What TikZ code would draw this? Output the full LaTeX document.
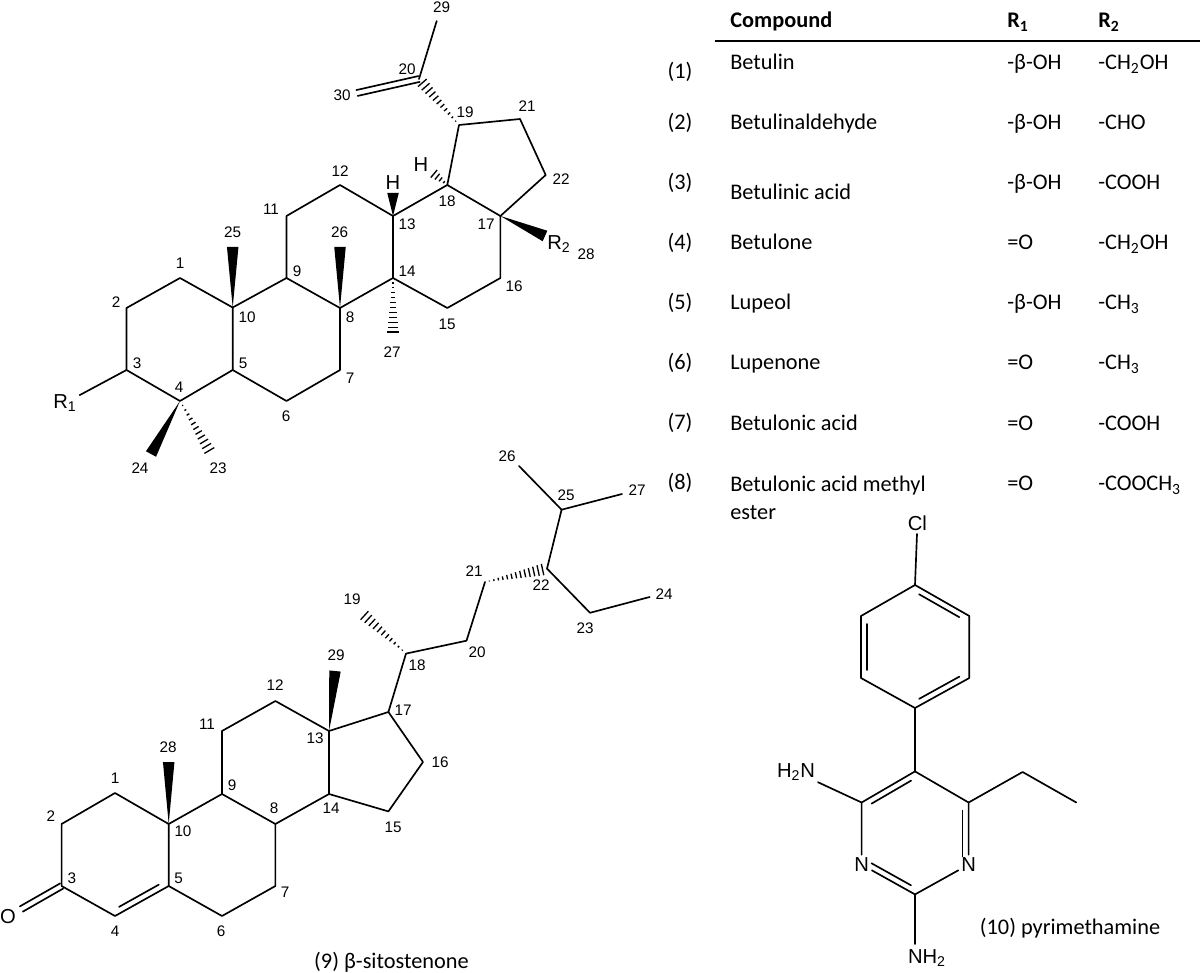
\documentclass[tikz,border=0pt]{standalone}
\usepackage{fontspec}
\setmainfont{Carlito}
\newfontfamily\chemfont{Liberation Sans}
\usetikzlibrary{calc}
\tikzstyle{bond} = [line width=0.95pt, line cap=round, line join=round]
\tikzstyle{num} = [inner sep=0pt, font=\chemfont\fontsize{8.7}{10}\selectfont]
\tikzstyle{atom} = [inner sep=1.5pt, font=\chemfont\fontsize{11.5}{13}\selectfont]
\tikzstyle{tbl} = [inner sep=0pt, anchor=base west, yshift=-1.1pt, font=\fontsize{12.7}{16}\selectfont]
\tikzstyle{tblnum} = [inner sep=0pt, font=\fontsize{12.7}{15}\selectfont]
\tikzstyle{caption} = [inner sep=0pt, font=\fontsize{12.7}{15}\selectfont]
% solid and hashed stereo bonds, double bond, inner line of a ring
\newcommand{\wedgeb}[2]{\fill (#1) -- ($(#2)!0.115cm!90:(#1)$) -- ($(#2)!0.115cm!-90:(#1)$) -- cycle;}
\newcommand{\hashb}[3]{\foreach \k in {1,...,#3} {
    \pgfmathsetmacro{\t}{\k/#3}
    \coordinate (hm) at ($(#1)!\t!(#2)$);
    \draw [line width=0.75pt] ($(hm)!\t*0.125cm!90:(#2)$) -- ($(hm)!\t*0.125cm!-90:(#2)$);
  }}
\newcommand{\dblb}[2]{
  \draw [bond] ($(#1)!0.06cm!90:(#2)$) -- ($(#2)!0.06cm!-90:(#1)$);
  \draw [bond] ($(#1)!0.06cm!-90:(#2)$) -- ($(#2)!0.06cm!90:(#1)$);}
\newcommand{\innerb}[3]{\draw [bond] ($(#1)!0.13!(#2)!#3!90:(#2)$) -- ($(#1)!0.87!(#2)!#3!90:(#2)$);}
\begin{document}
\begin{tikzpicture}[x=0.02cm, y=-0.02cm, node distance=1.2cm]
	\useasboundingbox (0,0) rectangle (1200,973);

	% lupane skeleton
	\coordinate (lupC1) at (180,278);
	\coordinate (lupC2) at (126.5,308);
	\coordinate (lupC3) at (126.5,370);
	\coordinate (lupC4) at (180,401);
	\coordinate (lupC5) at (232.7,370);
	\coordinate (lupC6) at (286.5,401);
	\coordinate (lupC7) at (340,370);
	\coordinate (lupC8) at (340,308);
	\coordinate (lupC9) at (286.5,278);
	\coordinate (lupC10) at (232.7,307.5);
	\coordinate (lupC11) at (286.5,216);
	\coordinate (lupC12) at (340,185);
	\coordinate (lupC13) at (393,216);
	\coordinate (lupC14) at (393,278);
	\coordinate (lupC15) at (447.3,308);
	\coordinate (lupC16) at (500.4,278);
	\coordinate (lupC17) at (500.4,216);
	\coordinate (lupC18) at (447.3,185);
	\coordinate (lupC19) at (459,125);
	\coordinate (lupC20) at (419,79);
	\coordinate (lupC21) at (520,119);
	\coordinate (lupC22) at (545.7,175);
	\coordinate (lupC23) at (212,455);
	\coordinate (lupC24) at (151,454);
	\coordinate (lupC25) at (232.7,247);
	\coordinate (lupC26) at (340,247);
	\coordinate (lupC27) at (393,337);
	\coordinate (lupC28) at (545,236);
	\coordinate (lupC29) at (436.7,21);
	\coordinate (lupC30) at (357,93);
	\coordinate (lupH13) at (393,193);
	\coordinate (lupH18) at (430.6,171);
	\node (lupR1) [atom] at (65,403) {R\textsubscript{1}};
	\node (lupR2) [atom, inner sep=0pt] at (559,244) {R\textsubscript{2}};
	\node (lupH1) [atom, inner sep=0pt] at (393,183) {H};
	\node (lupH2) [atom, inner sep=0pt] at (421,165) {H};

	\draw [bond] (lupC3) -- (lupC2) -- (lupC1) -- (lupC10) -- (lupC5) -- (lupC4) -- (lupC3);
	\draw [bond] (lupC10) -- (lupC9) -- (lupC8) -- (lupC7) -- (lupC6) -- (lupC5);
	\draw [bond] (lupC9) -- (lupC11) -- (lupC12) -- (lupC13) -- (lupC14) -- (lupC8);
	\draw [bond] (lupC13) -- (lupC18) -- (lupC17) -- (lupC16) -- (lupC15) -- (lupC14);
	\draw [bond] (lupC18) -- (lupC19) -- (lupC21) -- (lupC22) -- (lupC17);
	\draw [bond] (lupC20) -- (lupC29);
	\draw [bond] (lupC3) -- (lupR1);
	\dblb{lupC20}{lupC30}
	\wedgeb{lupC10}{lupC25}
	\wedgeb{lupC8}{lupC26}
	\wedgeb{lupC4}{lupC24}
	\wedgeb{lupC17}{lupC28}
	\wedgeb{lupC13}{lupH13}
	\hashb{lupC14}{lupC27}{12}
	\hashb{lupC4}{lupC23}{12}
	\hashb{lupC19}{lupC20}{12}
	\hashb{lupC18}{lupH18}{5}

	\node (lupn1) [num] at (180,263) {1};
	\node (lupn2) [num] at (116,302) {2};
	\node (lupn3) [num] at (137,363) {3};
	\node (lupn4) [num] at (179,387) {4};
	\node (lupn5) [num] at (243,363) {5};
	\node (lupn6) [num] at (286,416) {6};
	\node (lupn7) [num] at (350,378) {7};
	\node (lupn8) [num] at (350,317) {8};
	\node (lupn9) [num] at (297,271) {9};
	\node (lupn10) [num] at (247,317) {10};
	\node (lupn11) [num] at (271,209) {11};
	\node (lupn12) [num] at (340,171) {12};
	\node (lupn13) [num] at (407,224) {13};
	\node (lupn14) [num] at (407,271) {14};
	\node (lupn15) [num] at (447,324) {15};
	\node (lupn16) [num] at (514,286) {16};
	\node (lupn17) [num] at (486,224) {17};
	\node (lupn18) [num] at (447,201) {18};
	\node (lupn19) [num] at (465,112) {19};
	\node (lupn20) [num] at (407,69) {20};
	\node (lupn21) [num] at (527,106) {21};
	\node (lupn22) [num] at (561,179) {22};
	\node (lupn23) [num] at (218,468) {23};
	\node (lupn24) [num] at (140,468) {24};
	\node (lupn25) [num] at (232.7,232) {25};
	\node (lupn26) [num] at (339.6,232) {26};
	\node (lupn27) [num] at (392,352) {27};
	\node (lupn28) [num] at (586,254) {28};
	\node (lupn29) [num] at (441.6,7) {29};
	\node (lupn30) [num] at (342,95) {30};

	% sitostenone
	\coordinate (sitC1) at (115,793);
	\coordinate (sitC2) at (61.6,824);
	\coordinate (sitC3) at (61.6,886);
	\coordinate (sitC4) at (115,916);
	\coordinate (sitC5) at (168.7,886);
	\coordinate (sitC6) at (222,916);
	\coordinate (sitC7) at (275.4,886);
	\coordinate (sitC8) at (275.4,824);
	\coordinate (sitC9) at (222,794);
	\coordinate (sitC10) at (168.7,824);
	\coordinate (sitC11) at (222,731);
	\coordinate (sitC12) at (275.4,701);
	\coordinate (sitC13) at (329,731);
	\coordinate (sitC14) at (329,794);
	\coordinate (sitC15) at (388.4,811.4);
	\coordinate (sitC16) at (423,762);
	\coordinate (sitC17) at (388.4,712);
	\coordinate (sitC18) at (406,653.6);
	\coordinate (sitC19) at (360.7,612);
	\coordinate (sitC20) at (466.5,640.7);
	\coordinate (sitC21) at (485,582);
	\coordinate (sitC22) at (547,568.6);
	\coordinate (sitC23) at (590,612.8);
	\coordinate (sitC24) at (649.6,597);
	\coordinate (sitC25) at (561.6,509.7);
	\coordinate (sitC26) at (519,466);
	\coordinate (sitC27) at (622,494);
	\coordinate (sitC28) at (168.7,762);
	\coordinate (sitC29) at (335,671);
	\coordinate (sitOend) at (21.4,909);
	\node (sitO) [atom, inner sep=0pt] at (8,917) {O};

	\draw [bond] (sitC3) -- (sitC2) -- (sitC1) -- (sitC10) -- (sitC5) -- (sitC4) -- (sitC3);
	\draw [bond] (sitC10) -- (sitC9) -- (sitC8) -- (sitC7) -- (sitC6) -- (sitC5);
	\draw [bond] (sitC9) -- (sitC11) -- (sitC12) -- (sitC13) -- (sitC14) -- (sitC8);
	\draw [bond] (sitC13) -- (sitC17) -- (sitC16) -- (sitC15) -- (sitC14);
	\draw [bond] (sitC17) -- (sitC18) -- (sitC20) -- (sitC21);
	\draw [bond] (sitC22) -- (sitC25) -- (sitC26);
	\draw [bond] (sitC25) -- (sitC27);
	\draw [bond] (sitC22) -- (sitC23) -- (sitC24);
	\dblb{sitC3}{sitOend}
	\innerb{sitC4}{sitC5}{0.12cm}
	\wedgeb{sitC10}{sitC28}
	\wedgeb{sitC13}{sitC29}
	\hashb{sitC18}{sitC19}{12}
	\hashb{sitC21}{sitC22}{14}

	\node (sitn1) [num] at (115,778) {1};
	\node (sitn2) [num] at (51,816.5) {2};
	\node (sitn3) [num] at (72,878) {3};
	\node (sitn4) [num] at (115,931.5) {4};
	\node (sitn5) [num] at (178.6,878) {5};
	\node (sitn6) [num] at (221,931.5) {6};
	\node (sitn7) [num] at (285,892) {7};
	\node (sitn8) [num] at (274,808) {8};
	\node (sitn9) [num] at (232,785) {9};
	\node (sitn10) [num] at (183,831) {10};
	\node (sitn11) [num] at (207,724) {11};
	\node (sitn12) [num] at (275,685.6) {12};
	\node (sitn13) [num] at (315,738.6) {13};
	\node (sitn14) [num] at (331,808) {14};
	\node (sitn15) [num] at (393,827) {15};
	\node (sitn16) [num] at (440,762) {16};
	\node (sitn17) [num] at (403,710) {17};
	\node (sitn18) [num] at (417,665) {18};
	\node (sitn19) [num] at (352,599) {19};
	\node (sitn20) [num] at (477,652.6) {20};
	\node (sitn21) [num] at (474,571.6) {21};
	\node (sitn22) [num] at (541,585) {22};
	\node (sitn23) [num] at (585,628) {23};
	\node (sitn24) [num] at (664,594) {24};
	\node (sitn25) [num] at (566,495.4) {25};
	\node (sitn26) [num] at (507,456) {26};
	\node (sitn27) [num] at (637,490) {27};
	\node (sitn28) [num] at (168,747) {28};
	\node (sitn29) [num] at (336,655) {29};
	\node (sitcap) [caption] at (391.5,962) {(9) β-sitostenone};

	% pyrimethamine
	\coordinate (pyrA) at (915,585);
	\coordinate (pyrB) at (969.3,616);
	\coordinate (pyrC) at (969.3,678);
	\coordinate (pyrD) at (915,708);
	\coordinate (pyrE) at (861,678);
	\coordinate (pyrF) at (861,616);
	\coordinate (pyrC5) at (915,771.4);
	\coordinate (pyrC6) at (968.6,802.5);
	\coordinate (pyrC2) at (915,894.4);
	\coordinate (pyrC4) at (861.6,802.5);
	\coordinate (pyrEt) at (1022.6,772);
	\coordinate (pyrMe) at (1076.3,802.5);
	\coordinate (pyrNbend) at (915,944);
	\node (pyrCl) [atom] at (917.4,523.6) {Cl};
	\node (pyrN1) [atom] at (968.6,864.6) {N};
	\node (pyrN3) [atom] at (861.6,864.6) {N};
	\node (pyrNa) [atom] at (796,772) {H\textsubscript{2}N};
	\node (pyrNb) [atom] at (927,958) {NH\textsubscript{2}};
	\node (pyrcap) [caption] at (1070,928) {(10) pyrimethamine};

	\draw [bond] (pyrA) -- (pyrB) -- (pyrC) -- (pyrD) -- (pyrE) -- (pyrF) -- (pyrA);
	\draw [bond] (pyrCl) -- (pyrA);
	\draw [bond] (pyrD) -- (pyrC5);
	\draw [bond] (pyrC5) -- (pyrC6) -- (pyrN1) -- (pyrC2) -- (pyrN3) -- (pyrC4) -- (pyrC5);
	\draw [bond] (pyrC6) -- (pyrEt) -- (pyrMe);
	\draw [bond] (pyrC4) -- (pyrNa);
	\draw [bond] (pyrC2) -- (pyrNbend);
	\innerb{pyrA}{pyrB}{-0.12cm}
	\innerb{pyrD}{pyrC}{0.12cm}
	\innerb{pyrE}{pyrF}{-0.12cm}
	\innerb{pyrC5}{pyrC4}{0.12cm}
	\innerb{pyrC6}{pyrN1}{-0.12cm}
	\innerb{pyrC2}{pyrN3}{-0.12cm}

	% table
	\node (tblhead) [tbl, font=\fontsize{12.7}{15}\selectfont\bfseries] at (730,26) {Compound};
	\node (tblrone) [tbl, font=\fontsize{12.7}{15}\selectfont\bfseries] at (1007,26) {R\textsubscript{1}};
	\node (tblrtwo) [tbl, font=\fontsize{12.7}{15}\selectfont\bfseries] at (1098,26) {R\textsubscript{2}};
	\coordinate (ruleL) at (715,41);
	\coordinate (ruleR) at (1200,41);
	\draw [line width=1.1pt] (ruleL) -- (ruleR);

	\node (no1) [tblnum] at (680,72) {(1)};
	\node (no2) [tblnum, below of=no1, node distance=1.02cm] {(2)};
	\node (no3) [tblnum, below of=no2] {(3)};
	\node (no4) [tblnum, below of=no3] {(4)};
	\node (no5) [tblnum, below of=no4] {(5)};
	\node (no6) [tblnum, below of=no5] {(6)};
	\node (no7) [tblnum, below of=no6] {(7)};
	\node (no8) [tblnum, below of=no7] {(8)};

	\node (name1) [tbl] at (730,68) {Betulin};
	\node (name2) [tbl] at (730,128) {Betulinaldehyde};
	\node (name3) [tbl] at (730,197.5) {Betulinic acid};
	\node (name4) [tbl] at (730,248) {Betulone};
	\node (name5) [tbl] at (730,308) {Lupeol};
	\node (name6) [tbl] at (730,368) {Lupenone};
	\node (name7) [tbl] at (730,429) {Betulonic acid};
	\node (name8) [tbl, anchor=north west, align=left] at (730,474) {Betulonic acid methyl\\ ester};

	\node (rone1) [tbl] at (1007,68) {-β-OH};
	\node (rone2) [tbl] at (1007,128) {-β-OH};
	\node (rone3) [tbl] at (1007,188) {-β-OH};
	\node (rone4) [tbl] at (1007,248) {=O};
	\node (rone5) [tbl] at (1007,308) {-β-OH};
	\node (rone6) [tbl] at (1007,368) {=O};
	\node (rone7) [tbl] at (1007,429) {=O};
	\node (rone8) [tbl] at (1007,489) {=O};

	\node (rtwo1) [tbl] at (1098,68) {-CH\textsubscript{2}OH};
	\node (rtwo2) [tbl] at (1098,128) {-CHO};
	\node (rtwo3) [tbl] at (1098,188) {-COOH};
	\node (rtwo4) [tbl] at (1098,248) {-CH\textsubscript{2}OH};
	\node (rtwo5) [tbl] at (1098,308) {-CH\textsubscript{3}};
	\node (rtwo6) [tbl] at (1098,368) {-CH\textsubscript{3}};
	\node (rtwo7) [tbl] at (1098,429) {-COOH};
	\node (rtwo8) [tbl] at (1098,489) {-COOCH\textsubscript{3}};
\end{tikzpicture}
\end{document}
